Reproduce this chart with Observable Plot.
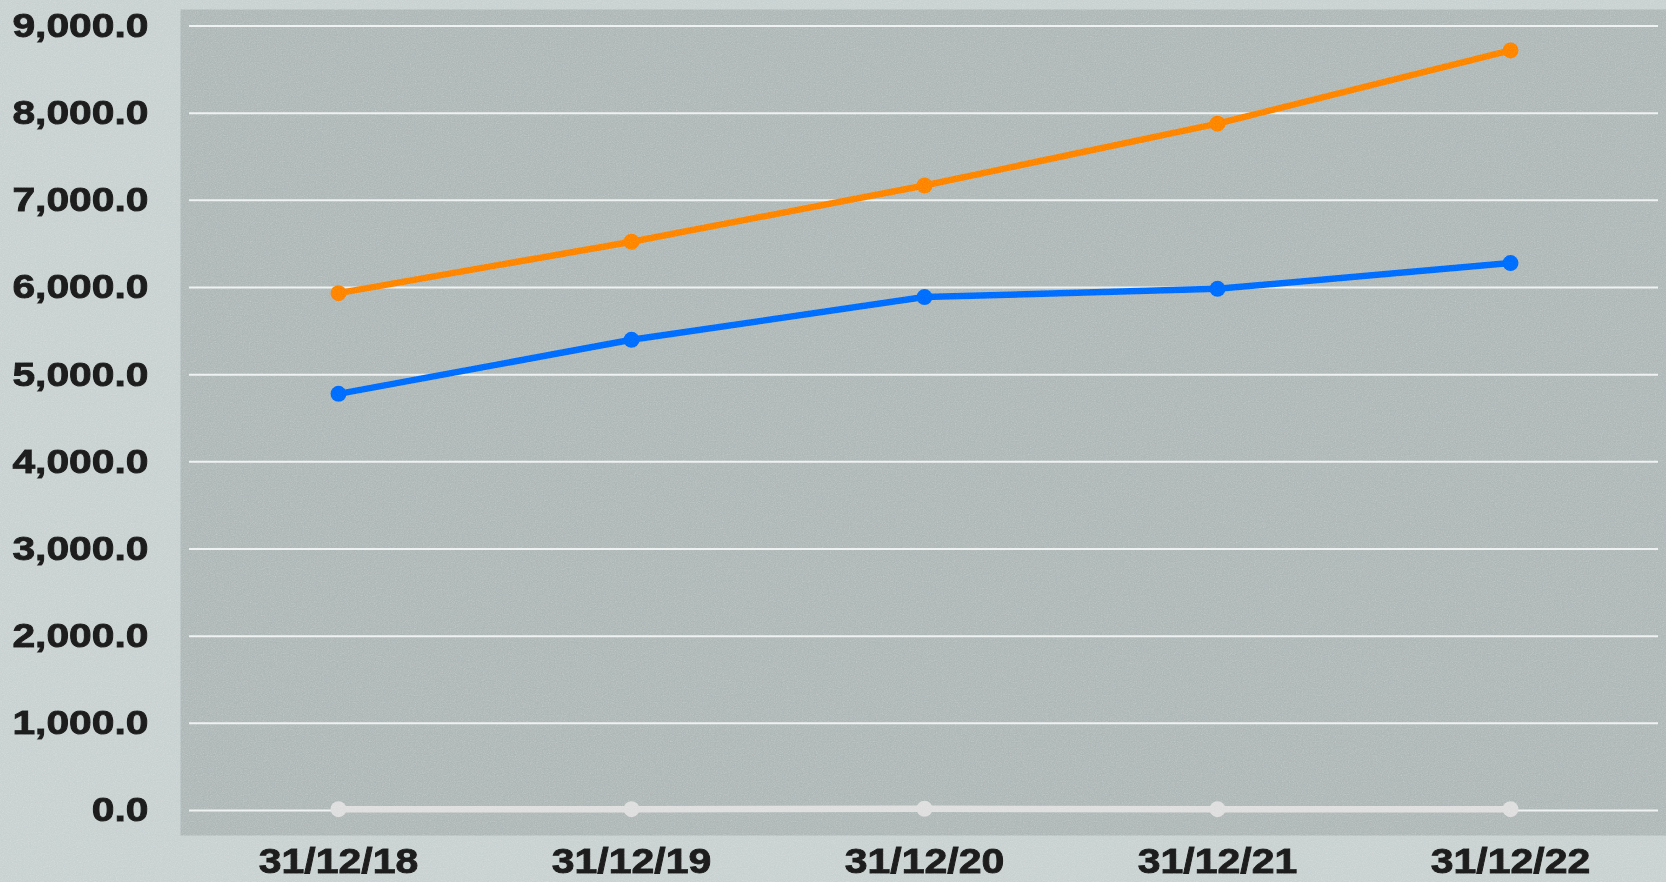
<!DOCTYPE html>
<html>
<head>
<meta charset="utf-8">
<script src="https://cdn.jsdelivr.net/npm/d3@7"></script>
<script src="https://cdn.jsdelivr.net/npm/@observablehq/plot@0.6"></script>
<style>
  html, body { margin: 0; padding: 0; }
  body { width: 1666px; height: 882px; background: #c5cfce; position: relative; overflow: hidden; }
  #chart { position: absolute; left: 0; top: 0; }
  #noise { position: absolute; left: 0; top: 0; width: 1666px; height: 882px; pointer-events: none; opacity: 0.45; mix-blend-mode: overlay; }
</style>
</head>
<body>
<div id="chart"></div>
<svg id="noise" xmlns="http://www.w3.org/2000/svg">
  <filter id="nf"><feTurbulence type="fractalNoise" baseFrequency="0.85" numOctaves="2" stitchTiles="stitch"/><feColorMatrix type="saturate" values="0"/></filter>
  <rect width="100%" height="100%" filter="url(#nf)"/>
</svg>
<script>
const dates = ["31/12/18", "31/12/19", "31/12/20", "31/12/21", "31/12/22"];
const orangeValues = [5935, 6525, 7170, 7880, 8720];
const blueValues = [4780, 5400, 5890, 5985, 6280];
const greyValues = [15, 15, 20, 15, 15];
const yTicks = [0, 1000, 2000, 3000, 4000, 5000, 6000, 7000, 8000, 9000];
const seriesColors = {orange: "#ff7a00", blue: "#0064ff", grey: "#dcdcdc"};

const rows = (vals, s) => dates.map((d, i) => ({date: d, value: vals[i], series: s}));
const grey = rows(greyValues, "grey");
const orange = rows(orangeValues, "orange");
const blue = rows(blueValues, "blue");

const lineOpts = (c) => ({x: "date", y: "value", stroke: c, strokeWidth: 6.5, curve: "linear"});
const dotOpts = (c) => ({x: "date", y: "value", fill: c, r: 8});

const chart = Plot.plot({
  width: 1666,
  height: 882,
  marginLeft: 189,
  marginRight: 8,
  marginTop: 25.5,
  marginBottom: 72,
  style: {background: "transparent", fontFamily: "'Liberation Sans', Arial, sans-serif", fontWeight: "bold", color: "#1a1a1a", overflow: "visible"},
  x: {type: "point", domain: dates, padding: 0.5, label: null, tickSize: 0, tickPadding: 38},
  y: {domain: [0, 9000], ticks: yTicks, tickFormat: d3.format(",.1f"), label: null, tickSize: 0, tickPadding: 41},
  marks: [
    Plot.frame({fill: "#aab4b3", insetLeft: -9, insetRight: -8, insetTop: -16.5, insetBottom: -25}),
    Plot.ruleY(yTicks, {stroke: "#eef1f1", strokeWidth: 2}),
    Plot.line(grey, lineOpts(seriesColors.grey)),
    Plot.dot(grey, dotOpts(seriesColors.grey)),
    Plot.line(blue, lineOpts(seriesColors.blue)),
    Plot.dot(blue, dotOpts(seriesColors.blue)),
    Plot.line(orange, lineOpts(seriesColors.orange)),
    Plot.dot(orange, dotOpts(seriesColors.orange))
  ]
});
document.getElementById("chart").appendChild(chart);

// axis label styling
d3.select(chart).selectAll('g[aria-label="y-axis tick label"]').attr("font-size", 34).attr("fill", "#1a1a1a").attr("stroke", "#1a1a1a").attr("stroke-width", 0.9);
d3.select(chart).selectAll('g[aria-label="x-axis tick label"]').attr("font-size", 35).attr("fill", "#1a1a1a").attr("stroke", "#1a1a1a").attr("stroke-width", 0.9);
const stretch = (sel, k) => d3.select(chart).selectAll(sel).each(function() {
  const t = this.getAttribute("transform") || "";
  this.setAttribute("transform", t + ` scale(${k},1)`);
});
stretch('g[aria-label="y-axis tick label"] text', 1.2);
stretch('g[aria-label="x-axis tick label"] text', 1.17);
</script>
</body>
</html>
